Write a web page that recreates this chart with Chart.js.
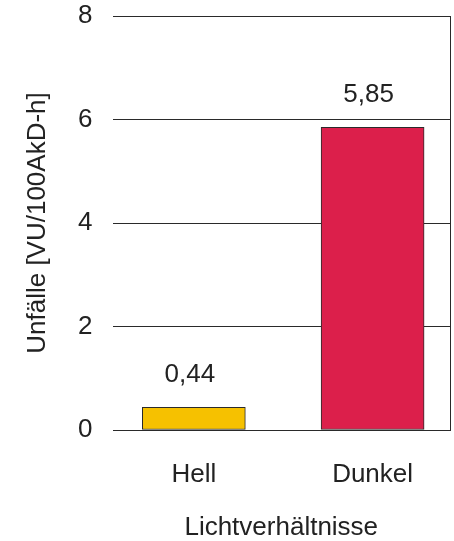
<!DOCTYPE html>
<html>
<head>
<meta charset="utf-8">
<script src="https://cdn.jsdelivr.net/npm/chart.js@4/dist/chart.umd.min.js"></script>
<style>
  html, body { margin: 0; padding: 0; background: #fff; overflow: hidden; }
  #wrap { width: 454px; height: 541px; position: relative; }
</style>
</head>
<body>
<div id="wrap"><canvas id="c" width="454" height="541"></canvas></div>
<script>
const categories = ['Hell', 'Dunkel'];
const values = [0.44, 5.85];
const valueLabels = ['0,44', '5,85'];
const yTicks = [0, 2, 4, 6, 8];
const barColors = ['#F6C100', '#DC1F4B'];
const yTitle = 'Unfälle [VU/100AkD-h]';
const xTitle = 'Lichtverhältnisse';

const FONT = "'Liberation Sans', Arial, sans-serif";
const TXT = '#222';

const valueLabelPlugin = {
  id: 'valueLabels',
  afterDatasetsDraw(chart) {
    const ctx = chart.ctx;
    const meta = chart.getDatasetMeta(0);
    ctx.save();
    ctx.font = "26px " + FONT;
    ctx.fillStyle = TXT;
    ctx.textAlign = 'center';
    ctx.textBaseline = 'middle';
    meta.data.forEach((bar, i) => {
      ctx.fillText(valueLabels[i], bar.x - 4, bar.y - 32);
    });
    ctx.restore();
  }
};

new Chart(document.getElementById('c'), {
  type: 'bar',
  data: {
    datasets: [{
      data: categories.map((c, i) => ({ x: i + 1, y: values[i] })),
      backgroundColor: barColors,
      borderColor: '#2a2a2a',
      borderWidth: 1,
      borderSkipped: false,
      barThickness: 103
    }]
  },
  plugins: [valueLabelPlugin],
  options: {
    responsive: false,
    animation: false,
    events: [],
    layout: { padding: { top: 0, right: 4, bottom: 0, left: 0 } },
    plugins: { legend: { display: false }, tooltip: { enabled: false } },
    scales: {
      x: {
        type: 'linear',
        offset: false,
        min: 0.545,
        max: 2.433,
        afterBuildTicks: (s) => { s.ticks = categories.map((c, i) => ({ value: i + 1 })); },
        ticks: {
          callback: (v) => categories[Math.round(v) - 1] || '',
          color: TXT,
          font: { family: FONT, size: 26, lineHeight: 1 },
          padding: 0,
          maxRotation: 0,
          autoSkip: false
        },
        grid: { display: true, drawOnChartArea: false, drawTicks: true, tickLength: 32, tickColor: 'rgba(0,0,0,0)', color: 'rgba(0,0,0,0)' },
        border: { display: false },
        title: {
          display: true,
          text: xTitle,
          color: TXT,
          font: { family: FONT, size: 26, lineHeight: 1 },
          padding: { top: 27, bottom: 0 }
        }
      },
      y: {
        min: 0,
        max: 8,
        afterBuildTicks: (s) => { s.ticks = yTicks.map(v => ({ value: v })); },
        ticks: {
          color: TXT,
          font: { family: FONT, size: 26, lineHeight: 1 },
          padding: 3
        },
        grid: { color: '#2a2a2a', lineWidth: 1, drawTicks: true, tickLength: 17, tickColor: 'rgba(0,0,0,0)' },
        border: { display: false },
        title: {
          display: true,
          text: yTitle,
          color: TXT,
          font: { family: FONT, size: 26, lineHeight: 1 },
          padding: { top: 25, bottom: 27 }
        }
      },
      yRight: {
        position: 'right',
        min: 0,
        max: 8,
        ticks: { display: false },
        grid: { display: false, drawTicks: false },
        border: { display: true, color: '#2a2a2a', width: 1 }
      }
    }
  }
});
</script>
</body>
</html>
